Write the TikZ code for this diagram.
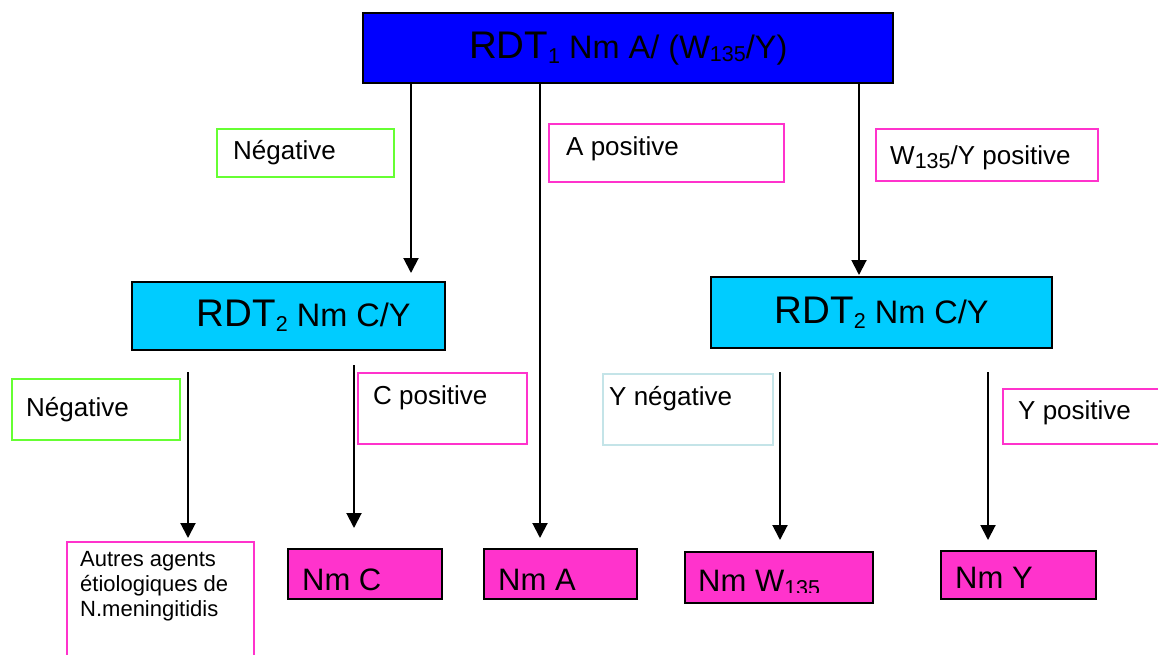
\documentclass[tikz,border=0pt]{standalone}
\usepackage{fontspec}
\setmainfont{Liberation Sans}
\usetikzlibrary{arrows.meta}

\definecolor{rdtblue}{RGB}{0,0,255}
\definecolor{rdtcyan}{RGB}{0,204,255}
\definecolor{nmpink}{RGB}{255,51,204}
\definecolor{negreen}{RGB}{102,255,51}
\definecolor{palecyan}{RGB}{196,228,232}

% font size helper and lowered index (e.g. RDT_1, W_135)
\newcommand\fs[1]{\fontsize{#1}{#1}\selectfont}
\newcommand\lowidx[2]{\raisebox{-#1pt}{\fs{21.5}#2}}

\begin{document}
\begin{tikzpicture}[x=1pt,y=-1pt,
  frame/.style={draw, line width=2pt, inner sep=0pt, anchor=north west},
  rdtbox/.style={frame, draw=black, line width=2.4pt},
  tagbox/.style={frame, fill=white},
  leafbox/.style={frame, draw=black, fill=nmpink},
  txt/.style={inner sep=0pt, anchor=base west},
  labtxt/.style={txt, font=\fs{26}},
  leaftxt/.style={txt, font=\fs{31}},
  conn/.style={draw=black, line width=2pt, -{Triangle[width=15pt,length=15pt]}}
]
\useasboundingbox (0,0) rectangle (1158,655);

% first test
\node[rdtbox, fill=rdtblue, minimum width=530, minimum height=70] (rdt1) at (362,12)
  {\fs{38.5}RDT\lowidx{5}{1}\fs{32.5} Nm A/ (W\lowidx{3.5}{135}/Y)};

% second tests
\node[rdtbox, fill=rdtcyan, minimum width=313, minimum height=68] (rdtL) at (131,281)
  {\hspace*{30pt}\fs{38.5}RDT\lowidx{5}{2}\fs{32.5} Nm C/Y};
\node[rdtbox, fill=rdtcyan, minimum width=341, minimum height=71] (rdtR) at (710,276)
  {\fs{38.5}RDT\lowidx{5}{2}\fs{32.5} Nm C/Y};

% result tags on the branches
\node[tagbox, draw=negreen, minimum width=177, minimum height=48] (tagNeg1) at (216,128) {};
\node[labtxt] (tNeg1) at (233,160) {Négative};
\node[tagbox, draw=nmpink, minimum width=235, minimum height=58] (tagApos) at (548,123) {};
\node[labtxt] (tApos) at (566,156) {A positive};
\node[tagbox, draw=nmpink, minimum width=222, minimum height=52] (tagWpos) at (875,128) {};
\node[labtxt] (tWpos) at (890,165) {W\lowidx{3.5}{135}/Y positive};

\node[tagbox, draw=negreen, minimum width=168, minimum height=61] (tagNeg2) at (11,378) {};
\node[labtxt] (tNeg2) at (26,416) {Négative};
\node[tagbox, draw=nmpink, minimum width=169, minimum height=71] (tagCpos) at (357,372) {};
\node[labtxt] (tCpos) at (373,404) {C positive};
\node[tagbox, draw=palecyan, minimum width=170, minimum height=71] (tagYneg) at (602,373) {};
\node[labtxt] (tYneg) at (609,405) {Y négative};
\node[tagbox, draw=nmpink, minimum width=170, minimum height=55] (tagYpos) at (1002,388) {};
\node[labtxt] (tYpos) at (1018,419) {Y positive};

% outcomes
\node[tagbox, draw=nmpink, minimum width=187, minimum height=130] (autres) at (66,541) {};
\node[inner sep=0pt, anchor=north west, align=left, font=\fontsize{22}{25}\selectfont]
  (tAutres) at (80,551) {Autres agents\\étiologiques de\\N.meningitidis};

\node[leafbox, minimum width=154, minimum height=50] (nmC) at (287,548) {};
\node[leaftxt] (tNmC) at (302,590) {Nm C};
\node[leafbox, minimum width=153, minimum height=50] (nmA) at (483,548) {};
\node[leaftxt] (tNmA) at (498,590) {Nm A};
\node[leafbox, minimum width=188, minimum height=51] (nmW) at (684,551) {};
\begin{scope}
  \clip (686,553) rectangle (870,592);
  \node[leaftxt] (tNmW) at (698,591) {Nm W\lowidx{4}{135}};
\end{scope}
\node[leafbox, minimum width=155, minimum height=48] (nmY) at (940,550) {};
\node[leaftxt] (tNmY) at (955,588) {Nm Y};

% branch positions
\coordinate (xa) at (411,0);
\coordinate (xb) at (540,0);
\coordinate (xc) at (859,0);
\coordinate (sL1) at (188,372);
\coordinate (sL2) at (354,365);
\coordinate (sR1) at (780,372);
\coordinate (sR2) at (988,372);

% connectors
\draw[conn, shorten >=8pt] (rdt1.south -| xa) -- (rdtL.north -| xa);
\draw[conn, shorten >=10pt] (rdt1.south -| xb) -- (nmA.north -| xb);
\draw[conn, shorten >=1pt] (rdt1.south -| xc) -- (rdtR.north -| xc);
\draw[conn, shorten >=3pt] (sL1) -- (autres.north -| sL1);
\draw[conn, shorten >=20pt] (sL2) -- (nmC.north -| sL2);
\draw[conn, shorten >=11pt] (sR1) -- (nmW.north -| sR1);
\draw[conn, shorten >=10pt] (sR2) -- (nmY.north -| sR2);
\end{tikzpicture}
\end{document}
